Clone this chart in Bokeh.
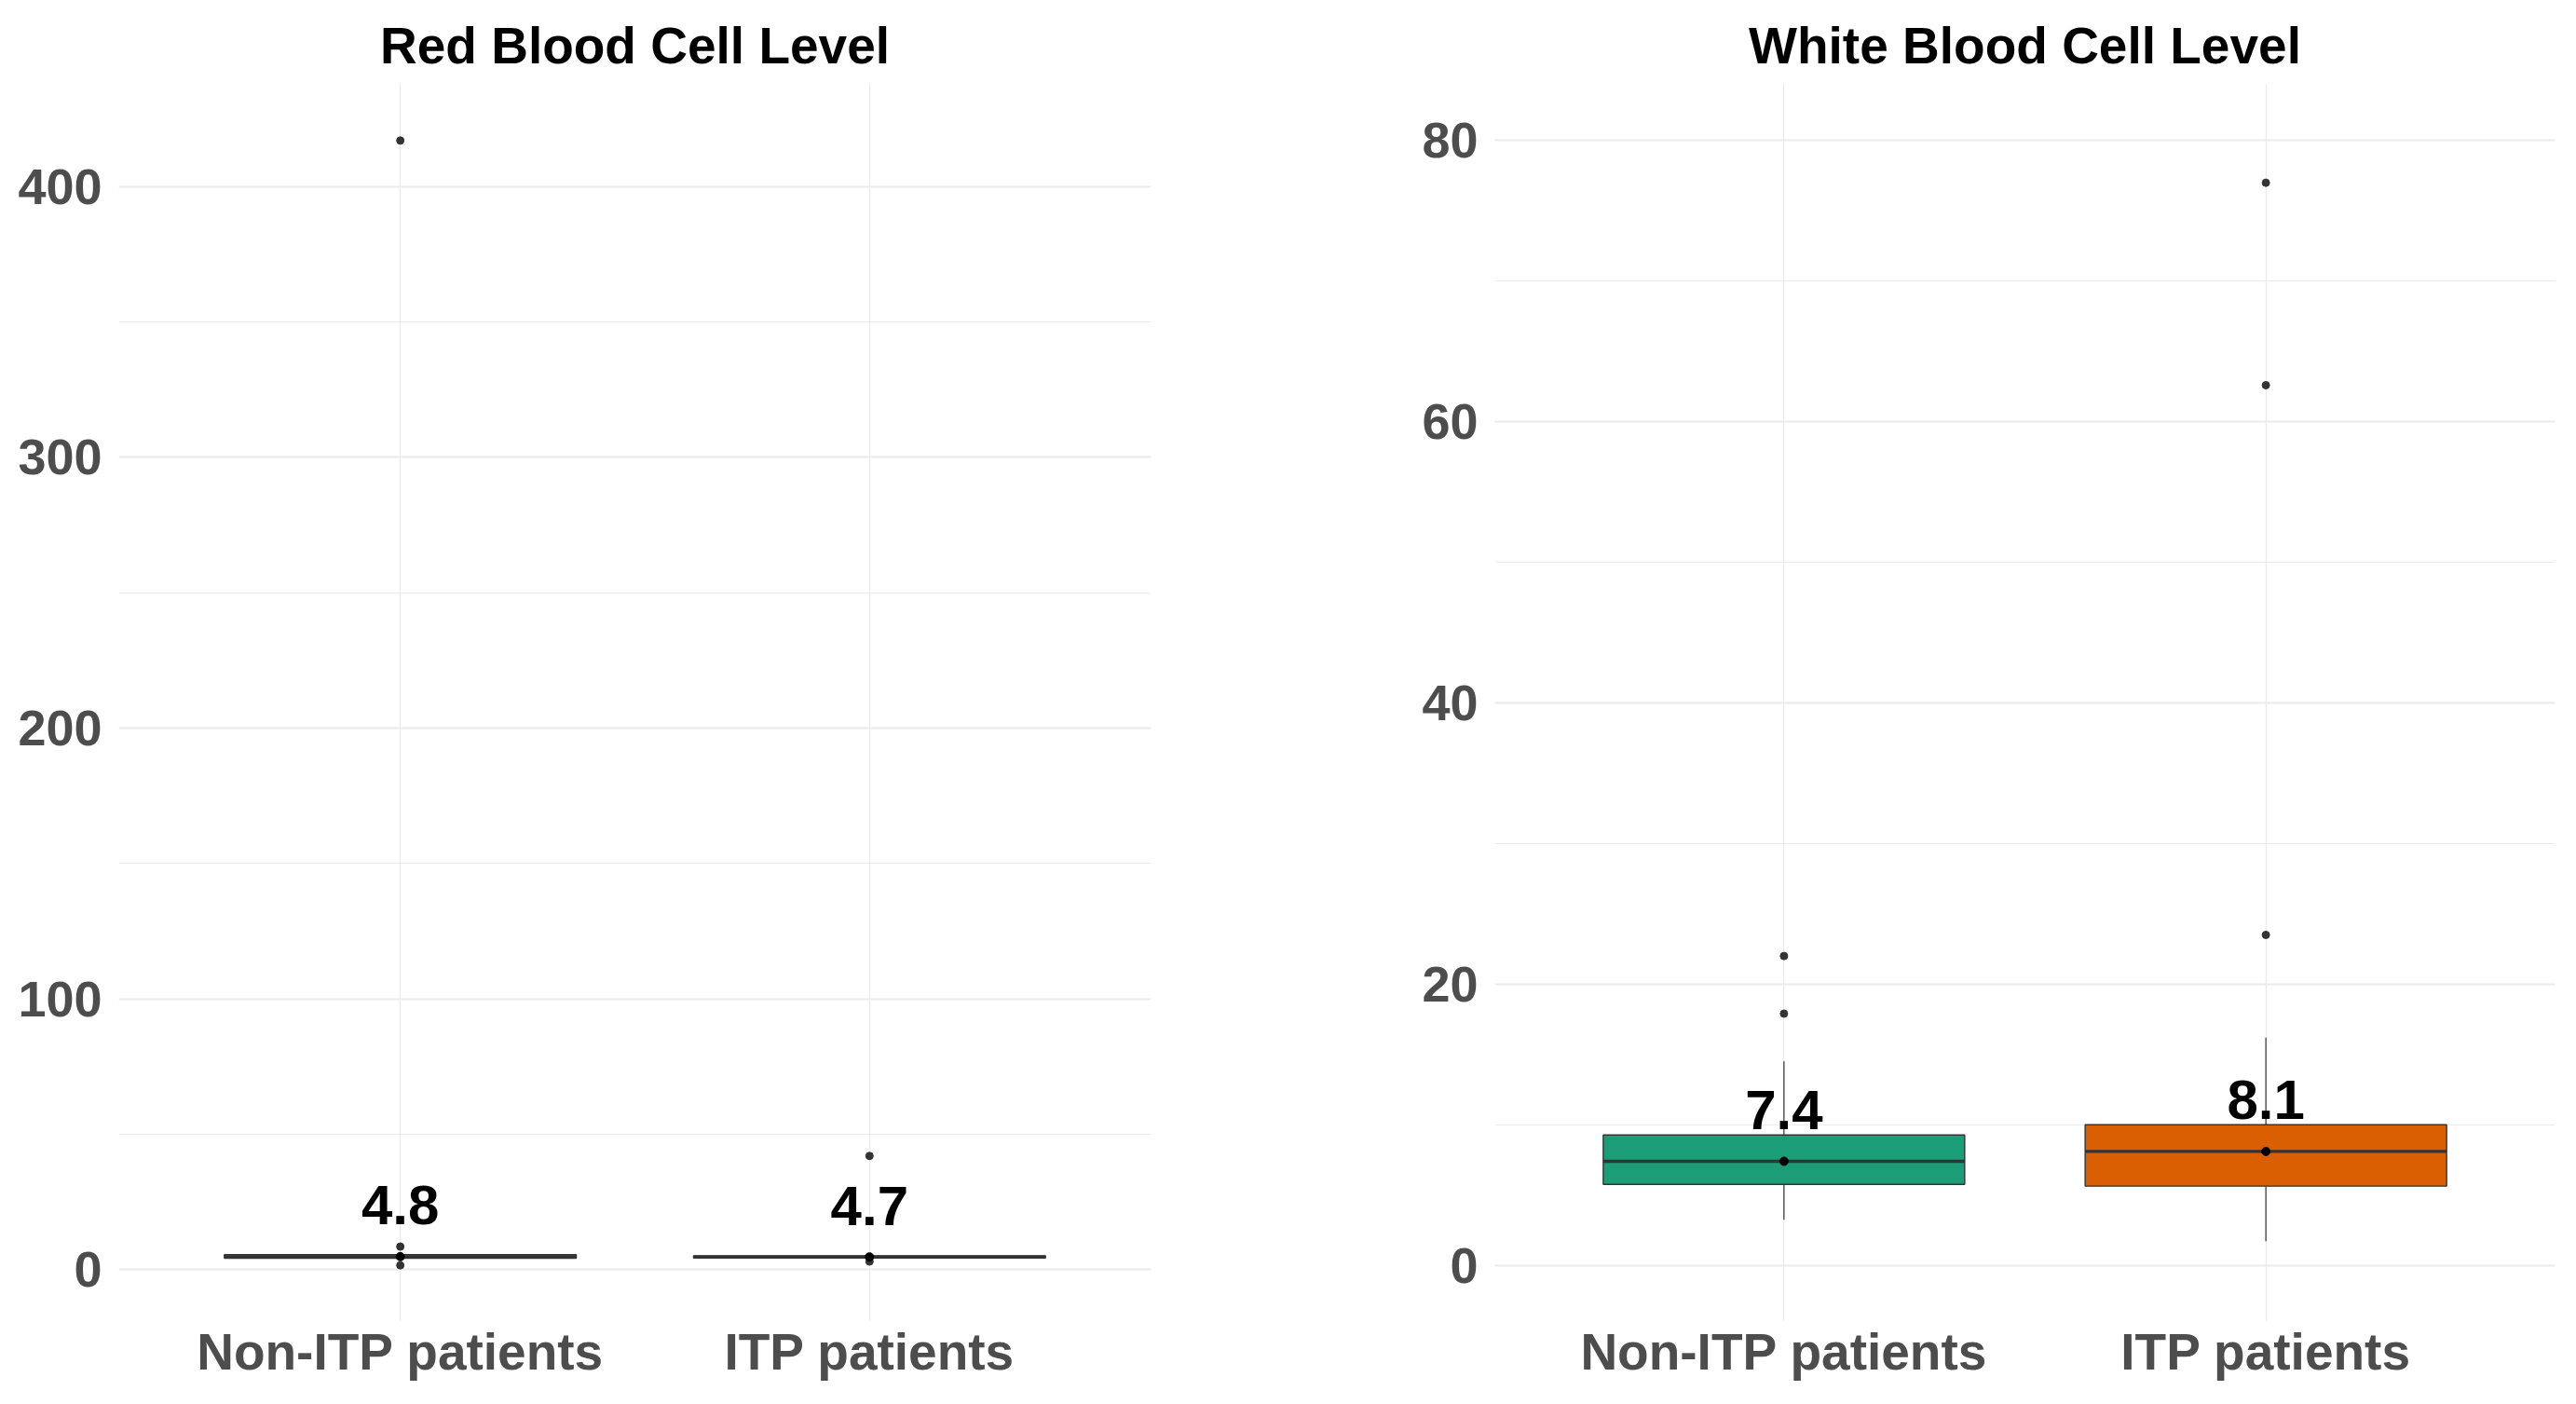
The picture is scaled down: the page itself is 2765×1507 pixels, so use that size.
from bokeh.plotting import figure
from bokeh.layouts import row
from bokeh.models import Range1d, FixedTicker, SingleIntervalTicker
from bokeh.core.properties import value
from bokeh.embed import file_html
from bokeh.resources import INLINE

# ---------------- data ----------------
categories = ["Non-ITP patients", "ITP patients"]
box_colors = ["#1B9E77", "#D95F02"]

# Red blood cell level
rbc_q1 = [4.2, 4.3]
rbc_median = [4.8, 4.7]
rbc_q3 = [5.5, 5.1]
rbc_whisker_low = [3.4, 3.6]
rbc_whisker_high = [6.5, 5.9]
rbc_outliers_non_itp = [417.0, 8.5, 1.6]
rbc_outliers_itp = [42.0, 3.0]
rbc_limits = [1.6, 417.0]
rbc_tick_interval = 100

# White blood cell level
wbc_q1 = [5.76, 5.63]
wbc_median = [7.4, 8.1]
wbc_q3 = [9.27, 10.0]
wbc_whisker_low = [3.24, 1.72]
wbc_whisker_high = [14.5, 16.2]
wbc_outliers_non_itp = [22.0, 17.9]
wbc_outliers_itp = [77.0, 62.6, 23.5]
wbc_limits = [0.0, 80.0]
wbc_tick_interval = 20

FONT = "Liberation Sans"
AXIS_COLOR = "#4D4D4D"
GRID = "#EBEBEB"
FIG_H = 1505


def make_panel(title, q1, med, q3, wlo, whi, outliers, limits, interval,
               width, border_left, border_right):
    span = limits[1] - limits[0]
    y0 = limits[0] - 0.05 * span
    y1 = limits[1] + 0.05 * span
    pos = [i + 1 for i in range(len(categories))]

    p = figure(width=width, height=FIG_H, output_backend="svg",
               toolbar_location=None, x_range=Range1d(0.4, len(categories) + 0.6),
               y_range=Range1d(y0, y1),
               min_border_left=border_left, min_border_right=border_right,
               min_border_top=90, min_border_bottom=FIG_H - 90 - 1328)
    p.outline_line_color = None
    p.background_fill_color = "white"
    p.border_fill_color = "white"

    # title
    p.title.text = title
    p.title.align = "center"
    p.title.text_font = FONT
    p.title.text_font_size = "55px"
    p.title.text_font_style = "bold"
    p.title.text_color = "black"
    p.title.standoff = 22

    # grids
    p.ygrid.ticker = SingleIntervalTicker(interval=interval, num_minor_ticks=2)
    p.ygrid.grid_line_color = GRID
    p.ygrid.grid_line_width = 2
    p.ygrid.minor_grid_line_color = GRID
    p.ygrid.minor_grid_line_width = 1.2
    p.xgrid.ticker = FixedTicker(ticks=pos)
    p.xgrid.grid_line_color = GRID
    p.xgrid.grid_line_width = 1.3

    # axes
    p.yaxis.ticker = SingleIntervalTicker(interval=interval, num_minor_ticks=0)
    p.xaxis.ticker = FixedTicker(ticks=pos)
    p.xaxis.major_label_overrides = {pp: c for pp, c in zip(pos, categories)}
    for ax in (p.xaxis[0], p.yaxis[0]):
        ax.axis_line_color = None
        ax.major_tick_line_color = None
        ax.minor_tick_line_color = None
        ax.major_label_text_font = FONT
        ax.major_label_text_font_style = "bold"
        ax.major_label_text_color = AXIS_COLOR
    p.yaxis.major_label_text_font_size = "54px"
    p.xaxis.major_label_text_font_size = "55px"
    p.yaxis.major_label_standoff = 12
    p.xaxis.major_label_standoff = -5

    # whiskers
    p.segment(x0=pos, x1=pos, y0=wlo, y1=q1, line_color="#333333", line_width=1.2)
    p.segment(x0=pos, x1=pos, y0=q3, y1=whi, line_color="#333333", line_width=1.2)
    # boxes
    p.vbar(x=pos, width=0.75, bottom=q1, top=q3, fill_color=box_colors,
           line_color="#333333", line_width=1.4)
    # medians
    p.segment(x0=[x - 0.375 for x in pos], x1=[x + 0.375 for x in pos],
              y0=med, y1=med, line_color="#333333", line_width=3.4)
    # outliers
    for x, outs in zip(pos, outliers):
        p.scatter(x=[x] * len(outs), y=outs, size=8, color="#333333")
    # median points
    p.scatter(x=pos, y=med, size=9, color="black")
    # median labels
    p.text(x=pos, y=med, text=[f"{m:.1f}" for m in med], text_font=value(FONT),
           text_font_style="bold", text_font_size="60px", text_color="black",
           text_align="center", text_baseline="middle", y_offset=-55)
    return p


p1 = make_panel("Red Blood Cell Level", rbc_q1, rbc_median, rbc_q3,
                rbc_whisker_low, rbc_whisker_high,
                [rbc_outliers_non_itp, rbc_outliers_itp], rbc_limits, rbc_tick_interval,
                width=1398, border_left=127, border_right=163)
p2 = make_panel("White Blood Cell Level", wbc_q1, wbc_median, wbc_q3,
                wbc_whisker_low, wbc_whisker_high,
                [wbc_outliers_non_itp, wbc_outliers_itp], wbc_limits, wbc_tick_interval,
                width=1366, border_left=206, border_right=22)

layout = row(p1, p2)
open("out.html", "w").write(file_html(layout, INLINE))
